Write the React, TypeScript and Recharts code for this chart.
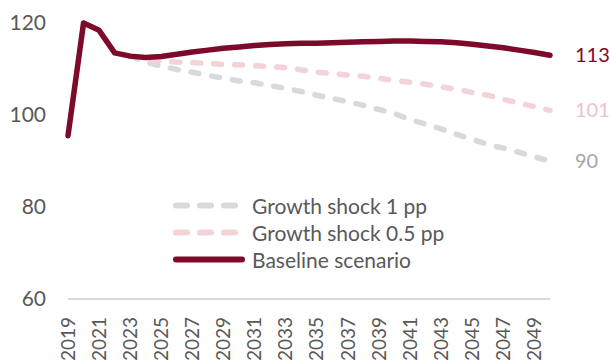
import React from 'react';
import { LineChart, Line, XAxis, YAxis } from 'recharts';

const years = [
  '2019', '2020', '2021', '2022', '2023', '2024', '2025', '2026',
  '2027', '2028', '2029', '2030', '2031', '2032', '2033', '2034',
  '2035', '2036', '2037', '2038', '2039', '2040', '2041', '2042',
  '2043', '2044', '2045', '2046', '2047', '2048', '2049', '2050',
];

const baseline = [
  95.5, 120, 118.4, 113.5, 112.8, 112.5, 112.7, 113.2,
  113.7, 114.1, 114.5, 114.8, 115.1, 115.3, 115.5, 115.6,
  115.6, 115.7, 115.8, 115.9, 116.0, 116.1, 116.1, 116.0,
  115.9, 115.7, 115.4, 115.0, 114.6, 114.1, 113.6, 113.0,
];

const shockHalf = [
  null, null, null, null, 112.8, 112.1, 111.7, 111.5,
  111.4, 111.2, 111.0, 110.9, 110.7, 110.5, 110.3, 109.8,
  109.3, 109.0, 108.7, 108.4, 108.0, 107.5, 107.1, 106.7,
  106.1, 105.6, 104.9, 104.3, 103.4, 102.6, 101.8, 101.0,
];

const shockOne = [
  null, null, null, null, 112.8, 111.5, 110.6, 109.9,
  109.3, 108.6, 108.0, 107.4, 107.0, 106.4, 105.8, 105.1,
  104.3, 103.6, 102.9, 102.1, 101.2, 100.3, 99.0, 98.0,
  97.0, 95.8, 94.7, 93.6, 92.8, 91.9, 90.9, 90.0,
];

const yTicks = [60, 80, 100, 120];

const MAROON = '#7d0a2a';
const PINK = '#f2d3d8';
const GREY = '#d9d9d9';
const TEXT = '#595959';
const FONT = 'Lato, "Open Sans", sans-serif';

const data = years.map((year, i) => ({
  year,
  baseline: baseline[i],
  shockHalf: shockHalf[i],
  shockOne: shockOne[i],
}));

// legend rows, top to bottom
const legendRows = [
  { name: 'Growth shock 1 pp', color: GREY, dashed: true },
  { name: 'Growth shock 0.5 pp', color: PINK, dashed: true },
  { name: 'Baseline scenario', color: MAROON, dashed: false },
];

const last = years.length - 1;

const endLabel = (color: string) => (props: any) => {
  const { x, y, index, value } = props;
  if (index !== last || value == null) return null;
  return (
    <text key="end" x={x + 25} y={y} dy="0.35em" fill={color} fontSize={20} fontFamily={FONT}>
      {Math.round(value)}
    </text>
  );
};

const YTick = ({ x, y, payload }: any) => (
  <text x={x} y={y} dy="0.35em" textAnchor="end" fill={TEXT} fontSize={21} fontFamily={FONT}>
    {payload.value}
  </text>
);

const XTick = ({ x, y, payload }: any) => (
  <text
    x={x}
    y={y}
    dy="0.35em"
    textAnchor="end"
    transform={`rotate(-90, ${x}, ${y})`}
    fill={TEXT}
    fontSize={19}
    fontFamily={FONT}
  >
    {payload.value}
  </text>
);

const LegendBox = () => (
  <div
    style={{
      position: 'absolute',
      left: 170,
      top: 192,
      fontFamily: FONT,
      fontSize: 21,
      color: TEXT,
    }}
  >
    {legendRows.map((row) => (
      <div key={row.name} style={{ display: 'flex', alignItems: 'center', height: 27 }}>
        <svg width={82} height={27}>
          <line
            x1={6}
            y1={13.5}
            x2={row.dashed ? 65 : 72}
            y2={13.5}
            stroke={row.color}
            strokeWidth={6}
            strokeLinecap="round"
            strokeDasharray={row.dashed ? '11 13' : undefined}
          />
        </svg>
        <span style={{ whiteSpace: 'nowrap' }}>{row.name}</span>
      </div>
    ))}
  </div>
);

export default function App() {
  return (
    <div style={{ position: 'absolute', left: 0, top: 0, width: 610, height: 363, background: '#fff', overflow: 'hidden' }}>
      <LineChart width={610} height={363} data={data} margin={{ top: 23, right: 60, left: 0, bottom: 0 }}>
        <XAxis
          dataKey="year"
          interval={1}
          height={64}
          tickSize={0}
          tickMargin={18}
          tickLine={false}
          axisLine={{ stroke: GREY, strokeWidth: 2 }}
          tick={<XTick />}
        />
        <YAxis
          domain={[60, 120]}
          ticks={yTicks}
          width={68}
          tickSize={0}
          tickMargin={22}
          tickLine={false}
          axisLine={false}
          tick={<YTick />}
        />
        <Line
          dataKey="shockOne"
          stroke={GREY}
          strokeWidth={5.5}
          strokeDasharray="8 13"
          strokeLinecap="round"
          dot={false}
          label={endLabel('#a6a6a6')}
          isAnimationActive={false}
        />
        <Line
          dataKey="shockHalf"
          stroke={PINK}
          strokeWidth={5.5}
          strokeDasharray="8 13"
          strokeLinecap="round"
          dot={false}
          label={endLabel('#ebc3c9')}
          isAnimationActive={false}
        />
        <Line
          dataKey="baseline"
          stroke={MAROON}
          strokeWidth={5.5}
          strokeLinecap="round"
          strokeLinejoin="round"
          dot={false}
          label={endLabel(MAROON)}
          isAnimationActive={false}
        />
      </LineChart>
      <LegendBox />
    </div>
  );
}
